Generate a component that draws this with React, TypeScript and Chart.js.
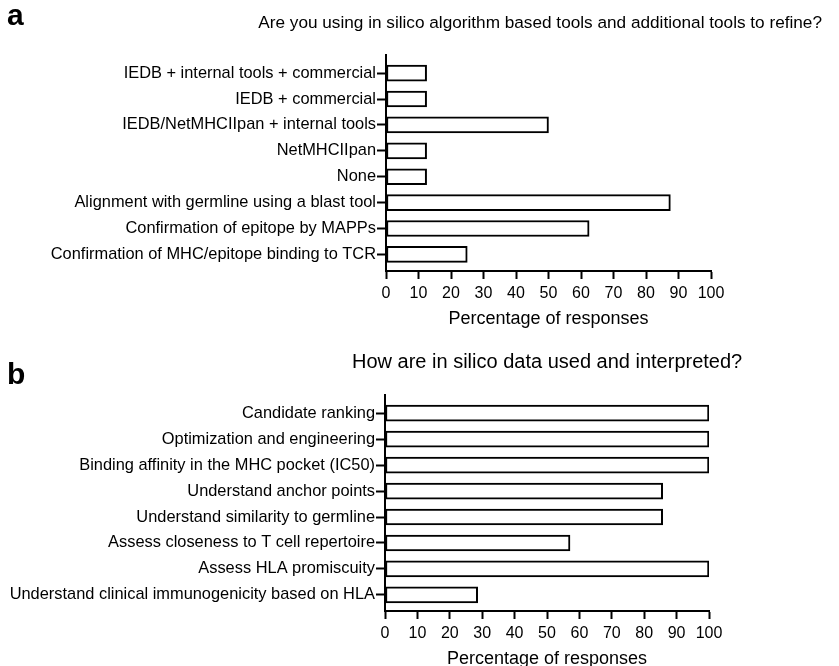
import React, { useEffect, useRef } from "react";
import { Chart, registerables } from "chart.js";

Chart.register(...registerables);

const titleA = "Are you using in silico algorithm based tools and additional tools to refine?";
const titleB = "How are in silico data used and interpreted?";
const axisTitle = "Percentage of responses";

const categoriesA = [
  "IEDB + internal tools + commercial",
  "IEDB + commercial",
  "IEDB/NetMHCIIpan + internal tools",
  "NetMHCIIpan",
  "None",
  "Alignment with germline using a blast tool",
  "Confirmation of epitope by MAPPs",
  "Confirmation of MHC/epitope binding to TCR",
];
const valuesA = [12.5, 12.5, 50, 12.5, 12.5, 87.5, 62.5, 25];

const categoriesB = [
  "Candidate ranking",
  "Optimization and engineering",
  "Binding affinity in the MHC pocket (IC50)",
  "Understand anchor points",
  "Understand similarity to germline",
  "Assess closeness to T cell repertoire",
  "Assess HLA promiscuity",
  "Understand clinical immunogenicity based on HLA",
];
const valuesB = [100, 100, 100, 85.7, 85.7, 57.1, 100, 28.6];

const xTicks = [0, 10, 20, 30, 40, 50, 60, 70, 80, 90, 100];

const FONT = "'Liberation Sans', Arial, sans-serif";

function makeConfig(cats: string[], vals: number[], p: any) {
  return {
    type: "bar" as const,
    data: {
      datasets: [
        {
          data: vals.map((v, i) => ({ x: v, y: i })),
          backgroundColor: "#ffffff",
          borderColor: "#000000",
          borderWidth: 2,
          borderSkipped: false,
          barThickness: 16,
        },
      ],
    },
    options: {
      indexAxis: "y" as const,
      animation: false as const,
      responsive: false,
      maintainAspectRatio: false,
      layout: { padding: { left: 0, right: p.right, top: p.top, bottom: 0 } },
      plugins: { legend: { display: false }, tooltip: { enabled: false }, title: { display: false } },
      scales: {
        x: {
          type: "linear" as const,
          min: 0,
          max: 100,
          afterBuildTicks: (s: any) => {
            s.ticks = xTicks.map((v) => ({ value: v }));
          },
          afterFit: (s: any) => {
            s.height = p.xHeight;
          },
          border: { display: true, color: "#000", width: 2 },
          grid: { drawOnChartArea: false, drawTicks: true, tickLength: 8, tickColor: "#000", tickWidth: 2 },
          ticks: { color: "#000", font: { family: FONT, size: 16 }, padding: 5, maxRotation: 0, autoSkip: false },
          title: {
            display: true,
            text: axisTitle,
            color: "#000",
            font: { family: FONT, size: 18 },
            padding: { top: 0, bottom: p.titlePad },
          },
        },
        y: {
          type: "linear" as const,
          reverse: true,
          offset: false,
          min: -0.7,
          max: p.ymax,
          afterBuildTicks: (s: any) => {
            s.ticks = cats.map((_, i) => ({ value: i }));
          },
          afterFit: (s: any) => {
            s.width = p.yWidth;
          },
          border: { display: true, color: "#000", width: 2 },
          grid: { offset: false, drawOnChartArea: false, drawTicks: true, tickLength: 9, tickColor: "#000", tickWidth: 2 },
          ticks: {
            color: "#000",
            font: { family: FONT, size: 16.4 },
            padding: 1,
            autoSkip: false,
            callback: (v: any) => cats[v as number] ?? "",
          },
        },
      },
    },
  };
}

function BarPanel(props: { cats: string[]; vals: number[]; p: any; top: number; height: number }) {
  const ref = useRef<HTMLCanvasElement | null>(null);
  useEffect(() => {
    if (!ref.current) return;
    const chart = new Chart(ref.current, makeConfig(props.cats, props.vals, props.p) as any);
    return () => chart.destroy();
  }, []);
  return (
    <canvas
      ref={ref}
      width={839}
      height={props.height}
      style={{ position: "absolute", left: 0, top: props.top, width: 839, height: props.height }}
    />
  );
}

export default function App() {
  return (
    <div style={{ position: "absolute", left: 0, top: 0, width: 839, height: 666, background: "#fff", overflow: "hidden", fontFamily: FONT, color: "#000" }}>
      <BarPanel cats={categoriesA} vals={valuesA} top={0} height={333}
        p={{ right: 128, top: 55, xHeight: 62, titlePad: 3, yWidth: 386, ymax: 7.64 }} />
      <BarPanel cats={categoriesB} vals={valuesB} top={333} height={340}
        p={{ right: 130, top: 62, xHeight: 62, titlePad: 3, yWidth: 385, ymax: 7.62 }} />
      <div style={{ position: "absolute", left: 7, top: 0, fontSize: 30, fontWeight: "bold", lineHeight: "30px" }}>a</div>
      <div style={{ position: "absolute", left: 7, top: 359, fontSize: 30, fontWeight: "bold", lineHeight: "30px" }}>b</div>
      <div style={{ position: "absolute", right: 17, top: 12, fontSize: 17.2, lineHeight: "20px", whiteSpace: "nowrap" }}>{titleA}</div>
      <div style={{ position: "absolute", left: 352, top: 350, fontSize: 20, lineHeight: "22px", whiteSpace: "nowrap" }}>{titleB}</div>
    </div>
  );
}
